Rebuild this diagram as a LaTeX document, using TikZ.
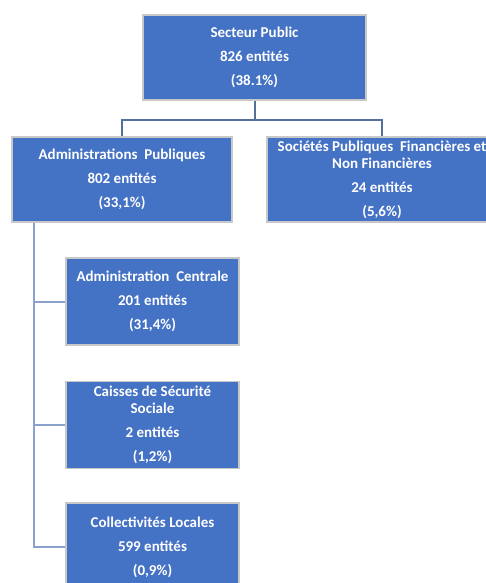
\documentclass[tikz,border=0pt]{standalone}
\usepackage{fontspec}
\setmainfont{Carlito}[BoldFont={Carlito Bold}]
\definecolor{boxblue}{HTML}{4472C4}
\definecolor{boxedge}{HTML}{C8C8C8}
\definecolor{linkdark}{HTML}{56709E}
\definecolor{linklight}{HTML}{8AA2CC}
\begin{document}
\begin{tikzpicture}[x=1pt,y=-1pt,
  orgbox/.style={draw=boxedge,line width=1.5pt,fill=boxblue,text=white,
    font=\bfseries\fontsize{15}{17}\selectfont,align=center,inner sep=0pt},
  linkA/.style={draw=linkdark,line width=2pt},
  linkB/.style={draw=linklight,line width=2pt}]
\clip (0,0) rectangle (486,583);
\useasboundingbox (0,0) rectangle (486,583);
\node[orgbox,minimum width=223pt,minimum height=85pt] (sp) at (254.5,57.5)
  {Secteur Public\\[7pt]826 entités\\[7pt](38.1\%)};
\node[orgbox,minimum width=220pt,minimum height=85pt] (ap) at (122,179.5)
  {Administrations\ \ Publiques\\[7pt]802 entités\\[7pt](33,1\%)};
\node[orgbox,minimum width=230pt,minimum height=85pt] (so) at (382,179.5)
  {Sociétés Publiques\ \ Financières et\\Non Financières\\[7pt]24 entités\\[7pt](5,6\%)};
\node[orgbox,minimum width=173pt,minimum height=87pt] (ac) at (152.5,301.5)
  {Administration\ \ Centrale\\[7pt]201 entités\\[7pt](31,4\%)};
\node[orgbox,minimum width=173pt,minimum height=87pt] (cs) at (152.5,425)
  {Caisses de Sécurité\\Sociale\\[7pt]2 entités\\[7pt](1,2\%)};
\node[orgbox,minimum width=173pt,minimum height=88pt] (cl) at (152.5,547)
  {Collectivités Locales\\[7pt]599 entités\\[7pt](0,9\%)};
\coordinate (bus) at (0,120);
\coordinate (trunk) at (34,0);
\draw[linkA] (sp.south) -- (sp.south |- bus);
\draw[linkA] (ap.north) -- (ap.north |- bus) -- (so.north |- bus) -- (so.north);
\draw[linkB] (ap.south -| trunk) -- (trunk |- cl.west) -- (cl.west);
\draw[linkB] (trunk |- ac.west) -- (ac.west);
\draw[linkB] (trunk |- cs.west) -- (cs.west);
\end{tikzpicture}
\end{document}
